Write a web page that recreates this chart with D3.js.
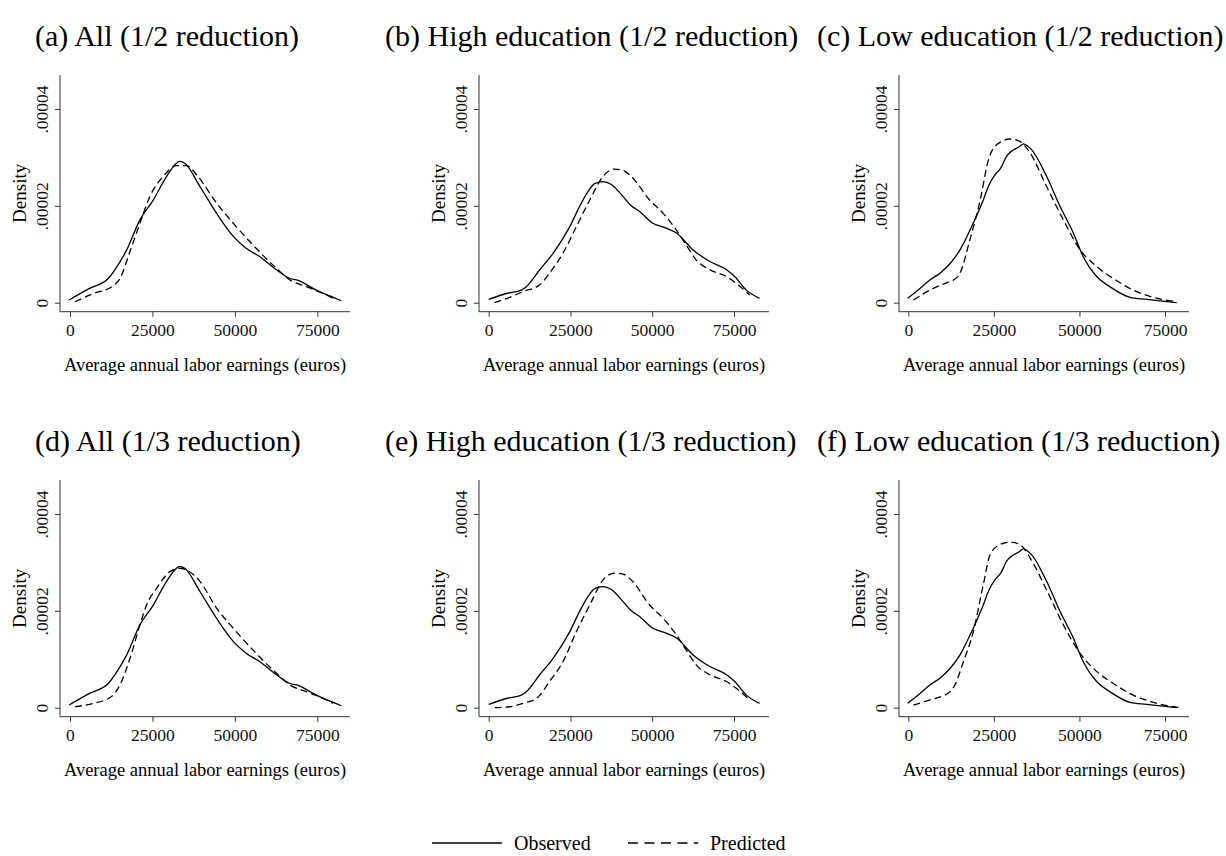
<!DOCTYPE html>
<html>
<head>
<meta charset="utf-8">
<script src="https://cdn.jsdelivr.net/npm/d3@7"></script>
<style>
  body { margin: 0; background: #fff; }
  svg { display: block; font-family: "Liberation Serif", "Times New Roman", serif; }
  .axis path, .axis line { stroke: #333; stroke-width: 1; }
  .axis text { fill: #111; font-size: 17.5px; }
  .curve { fill: none; stroke: #000; stroke-width: 1.3; }
</style>
</head>
<body>
<svg id="chart" width="1226" height="856"></svg>
<script>
const titles = [
  "(a) All (1/2 reduction)", "(b) High education (1/2 reduction)", "(c) Low education (1/2 reduction)",
  "(d) All (1/3 reduction)", "(e) High education (1/3 reduction)", "(f) Low education (1/3 reduction)"
];
const xTicks = [0, 25000, 50000, 75000];
const yTicks = [0, 0.00002, 0.00004];
const yTickLabels = ["0", ".00002", ".00004"];
const xTitle = "Average annual labor earnings (euros)";
const yTitle = "Density";
const legendLabels = ["Observed", "Predicted"];

// observed densities (same in both rows)
const obsAll = [[-300,5.5e-7],[6060,3.0e-6],[11600,5.0e-6],[13600,6.8e-6],[17200,1.09e-5],[21200,1.71e-5],[25250,2.12e-5],[29300,2.61e-5],[33300,2.92e-5],[34800,2.88e-5],[39400,2.40e-5],[44400,1.85e-5],[49500,1.37e-5],[53500,1.12e-5],[57600,9.5e-6],[62600,6.8e-6],[66700,5.0e-6],[68700,4.7e-6],[74700,2.6e-6],[79800,1.1e-6],[82300,4e-7]];
const obsHigh = [[0,6.9e-7],[5400,1.9e-6],[10000,2.6e-6],[11500,3.3e-6],[15600,6.8e-6],[19700,1.02e-5],[24800,1.57e-5],[27800,1.99e-5],[30400,2.30e-5],[32400,2.46e-5],[35000,2.50e-5],[37500,2.44e-5],[41100,2.19e-5],[43600,2.0e-5],[46200,1.88e-5],[50200,1.64e-5],[54300,1.54e-5],[57400,1.44e-5],[62500,1.09e-5],[67600,8.5e-6],[72700,6.8e-6],[75200,5.4e-6],[78800,2.6e-6],[82800,9e-7]];
const obsLow = [[-200,9e-7],[2900,2.6e-6],[6300,4.7e-6],[9250,6.1e-6],[12200,8.1e-6],[15100,1.09e-5],[18500,1.57e-5],[21900,2.12e-5],[23500,2.42e-5],[25300,2.64e-5],[27000,2.78e-5],[28700,3.02e-5],[32600,3.23e-5],[33600,3.28e-5],[36000,3.16e-5],[40400,2.61e-5],[44300,1.99e-5],[48200,1.44e-5],[51100,9.5e-6],[55000,5.4e-6],[58900,3.3e-6],[64800,1.1e-6],[69600,6.9e-7],[78400,0]];

// predicted densities
const predAllHalf = [[1500,2e-7],[7070,1.9e-6],[13100,3.5e-6],[15150,5.0e-6],[18200,1.06e-5],[21200,1.64e-5],[24200,2.19e-5],[28300,2.61e-5],[32300,2.83e-5],[35400,2.83e-5],[38400,2.64e-5],[44400,2.06e-5],[49500,1.64e-5],[55500,1.19e-5],[62600,7.1e-6],[66700,4.7e-6],[71700,3.3e-6],[76800,1.9e-6],[79800,9e-7]];
const predHighHalf = [[1800,0],[6400,1.1e-6],[10500,2.3e-6],[15600,3.7e-6],[18600,6.1e-6],[22700,1.02e-5],[26800,1.57e-5],[30900,2.12e-5],[35000,2.61e-5],[38500,2.76e-5],[41100,2.73e-5],[44100,2.57e-5],[49200,2.12e-5],[53300,1.85e-5],[57400,1.50e-5],[60400,1.19e-5],[63500,8.8e-6],[67600,6.8e-6],[72700,5.4e-6],[75700,4.0e-6],[79800,1.6e-6]];
const predLowHalf = [[1500,5.5e-7],[6300,2.6e-6],[11200,4.1e-6],[13100,4.6e-6],[15100,6.1e-6],[18000,1.30e-5],[21000,2.12e-5],[23400,2.95e-5],[25800,3.26e-5],[29700,3.38e-5],[32600,3.33e-5],[35600,3.09e-5],[40400,2.40e-5],[45300,1.71e-5],[50200,1.09e-5],[55000,7.5e-6],[59900,5.0e-6],[65700,2.6e-6],[71600,1.1e-6],[78400,2e-7]];
const predAllThird = [[1500,2e-7],[7070,9e-7],[12600,2.3e-6],[15150,4.7e-6],[18200,1.02e-5],[21200,1.71e-5],[23200,2.12e-5],[26300,2.47e-5],[30300,2.81e-5],[33300,2.88e-5],[35800,2.83e-5],[39400,2.61e-5],[44400,2.06e-5],[49500,1.64e-5],[55500,1.19e-5],[62600,7.1e-6],[66700,4.7e-6],[71700,3.3e-6],[76800,1.9e-6],[79800,9e-7]];
const predHighThird = [[1800,0],[6400,2e-7],[11500,1.1e-6],[14600,1.9e-6],[18600,5.4e-6],[22700,9.5e-6],[26800,1.57e-5],[30900,2.12e-5],[35000,2.64e-5],[38500,2.78e-5],[41100,2.76e-5],[44100,2.6e-5],[49200,2.12e-5],[53300,1.85e-5],[57400,1.5e-5],[60400,1.19e-5],[63500,8.8e-6],[67600,6.8e-6],[72700,5.4e-6],[75700,4.0e-6],[79800,1.6e-6]];
const predLowThird = [[1500,5.5e-7],[6300,1.6e-6],[12200,3.3e-6],[13600,4.7e-6],[16100,9.5e-6],[19000,1.57e-5],[21900,2.54e-5],[23900,3.16e-5],[26800,3.37e-5],[29700,3.42e-5],[32600,3.37e-5],[35600,3.09e-5],[40400,2.43e-5],[45300,1.71e-5],[50200,1.12e-5],[55000,7.5e-6],[59900,5.0e-6],[65700,2.6e-6],[71600,1.1e-6],[79400,0]];

const panels = [
  { obs: obsAll, pred: predAllHalf }, { obs: obsHigh, pred: predHighHalf }, { obs: obsLow, pred: predLowHalf },
  { obs: obsAll, pred: predAllThird }, { obs: obsHigh, pred: predHighThird }, { obs: obsLow, pred: predLowThird }
];

// layout
const colLeft = [60, 479, 899];
const colDomain = [[-3030, 84900], [-2960, 85700], [-2720, 82000]];
const titleX = [35, 385, 817];
const rowZero = [302.7, 707.7];
const plotW = 290;

const svg = d3.select("#chart");

panels.forEach((p, i) => {
  const col = i % 3, row = Math.floor(i / 3);
  const left = colLeft[col], zero = rowZero[row];
  const top = zero - 227.7, bottom = zero + 9;
  const x = d3.scaleLinear().domain(colDomain[col]).range([left, left + plotW]);
  const y = d3.scaleLinear().domain([0, 0.00004]).range([zero, zero - 193.7]);
  const g = svg.append("g");

  g.append("text").attr("x", titleX[col]).attr("y", zero - 257).attr("font-size", 30).text(titles[i]);

  const ya = g.append("g").attr("class", "axis").attr("transform", `translate(${left},0)`)
    .call(d3.axisLeft(y).tickValues(yTicks).tickSize(5).tickSizeOuter(0).tickFormat((d, k) => yTickLabels[k]))
    .attr("font-family", null).attr("font-size", null);
  ya.select(".domain").attr("d", `M0,${top}V${bottom}`);
  ya.selectAll(".tick text").attr("transform", "rotate(-90)").attr("text-anchor", "middle")
    .attr("x", 0).attr("y", -12).attr("dy", 0);

  const xa = g.append("g").attr("class", "axis").attr("transform", `translate(0,${bottom})`)
    .call(d3.axisBottom(x).tickValues(xTicks).tickSize(5).tickSizeOuter(0).tickFormat(d3.format("d")))
    .attr("font-family", null).attr("font-size", null);
  xa.select(".domain").attr("d", `M${left},0H${left + plotW}`);
  xa.selectAll(".tick text").attr("y", 12).attr("dy", "0.71em");

  g.append("text").attr("x", left + plotW / 2).attr("y", bottom + 59).attr("text-anchor", "middle")
    .attr("font-size", 18.5).text(xTitle);
  g.append("text").attr("transform", `translate(${left - 34},${(top + bottom) / 2}) rotate(-90)`)
    .attr("text-anchor", "middle").attr("font-size", 19).text(yTitle);

  const line = d3.line().x((d) => x(d[0])).y((d) => y(d[1])).curve(d3.curveMonotoneX);
  g.append("path").datum(p.pred).attr("class", "curve").attr("stroke-dasharray", "7,4").attr("d", line);
  g.append("path").datum(p.obs).attr("class", "curve").attr("d", line);
});

// legend
const lg = svg.append("g").attr("transform", "translate(0,843)");
const legendItems = [{ x: 432, dash: null }, { x: 628, dash: "10,6.5" }];
legendItems.forEach((it, k) => {
  lg.append("line").attr("x1", it.x).attr("x2", it.x + 70).attr("y1", 0).attr("y2", 0)
    .attr("stroke", "#000").attr("stroke-width", 1.4).attr("stroke-dasharray", it.dash);
  lg.append("text").attr("x", it.x + 82).attr("y", 7).attr("font-size", 20).text(legendLabels[k]);
});
</script>
</body>
</html>
